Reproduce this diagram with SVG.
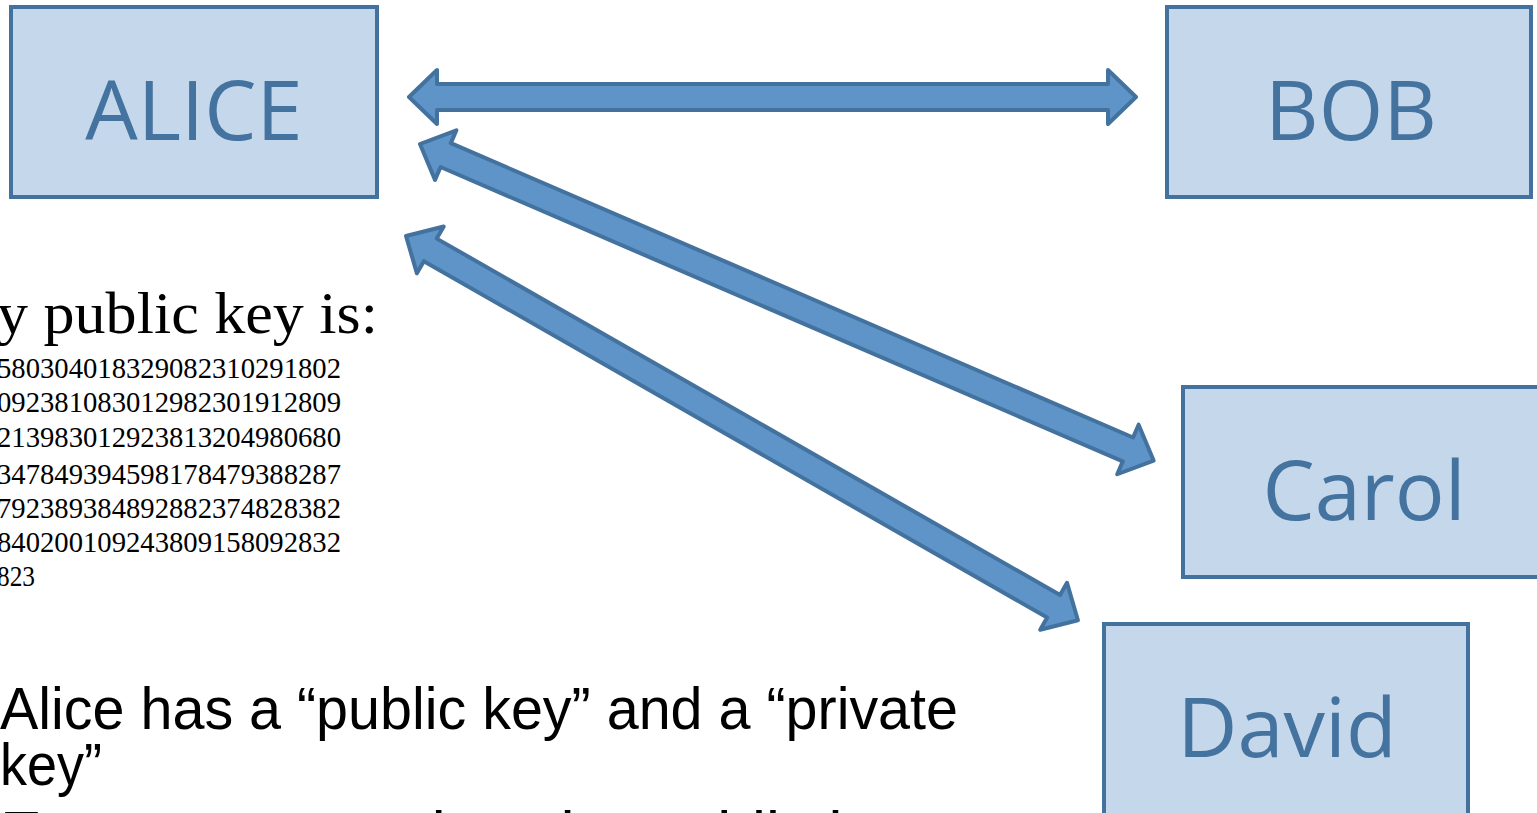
<svg xmlns="http://www.w3.org/2000/svg" width="1537" height="813" viewBox="0 0 1537 813">
  <style>
    .box { fill: #C5D7EB; stroke: #44729F; stroke-width: 4; }
    .lbl { font-family: "Open Sans", "Noto Sans", sans-serif; font-size: 83px; fill: #44739F; text-anchor: middle; }
    .arrow { fill: #5E94C8; stroke: #44729F; stroke-width: 4; stroke-linejoin: round; }
    .serif { font-family: "Liberation Serif", "Times New Roman", serif; fill: #000; }
    .sans { font-family: "Liberation Sans", Arial, sans-serif; fill: #000; }
  </style>
  <rect width="1537" height="813" fill="#FFFFFF"/>

  <g id="connectors">
    <path class="arrow" transform="translate(409,97)" d="M0,0 L28,-27 L28,-13 L699,-13 L699,-27 L727,0 L699,27 L699,13 L28,13 L28,27 Z"/>
    <path class="arrow" transform="translate(420,144) rotate(23.34)" d="M0,0 L28,-27 L28,-13 L771,-13 L771,-27 L799,0 L771,27 L771,13 L28,13 L28,27 Z"/>
    <path class="arrow" transform="translate(406,236) rotate(29.76)" d="M0,0 L28,-27 L28,-13 L746,-13 L746,-27 L774,0 L746,27 L746,13 L28,13 L28,27 Z"/>
  </g>

  <g id="alice">
    <rect class="box" x="11" y="7" width="366" height="190"/>
    <text class="lbl" x="194" y="140">ALICE</text>
  </g>
  <g id="bob">
    <rect class="box" x="1167" y="7" width="364" height="190"/>
    <text class="lbl" x="1351" y="140">BOB</text>
  </g>
  <g id="carol">
    <rect class="box" x="1183" y="387" width="364" height="190"/>
    <text class="lbl" x="1364" y="520">Carol</text>
  </g>
  <g id="david">
    <rect class="box" x="1104" y="624" width="364" height="194"/>
    <text class="lbl" x="1287" y="757">David</text>
  </g>

  <g id="key-text">
    <text class="serif" x="-3" y="333" font-size="60" textLength="381" lengthAdjust="spacingAndGlyphs">y public key is:</text>
    <g class="serif" font-size="29">
      <text x="-3" y="378" textLength="344" lengthAdjust="spacingAndGlyphs">580304018329082310291802</text>
      <text x="-3" y="412" textLength="344" lengthAdjust="spacingAndGlyphs">092381083012982301912809</text>
      <text x="-3" y="447" textLength="344" lengthAdjust="spacingAndGlyphs">213983012923813204980680</text>
      <text x="-3" y="484" textLength="344" lengthAdjust="spacingAndGlyphs">347849394598178479388287</text>
      <text x="-3" y="518" textLength="344" lengthAdjust="spacingAndGlyphs">792389384892882374828382</text>
      <text x="-3" y="552" textLength="344" lengthAdjust="spacingAndGlyphs">840200109243809158092832</text>
      <text x="-3" y="586" textLength="38" lengthAdjust="spacingAndGlyphs">823</text>
    </g>
  </g>

  <g id="bullets">
    <text class="sans" x="0" y="729" font-size="60" textLength="958" lengthAdjust="spacingAndGlyphs">Alice has a “public key” and a “private</text>
    <text class="sans" x="0" y="785" font-size="60" textLength="102" lengthAdjust="spacingAndGlyphs">key”</text>
    <text class="sans" x="0" y="858" font-size="66" textLength="926" lengthAdjust="spacingAndGlyphs">Everyone can view the public key</text>
  </g>
</svg>
